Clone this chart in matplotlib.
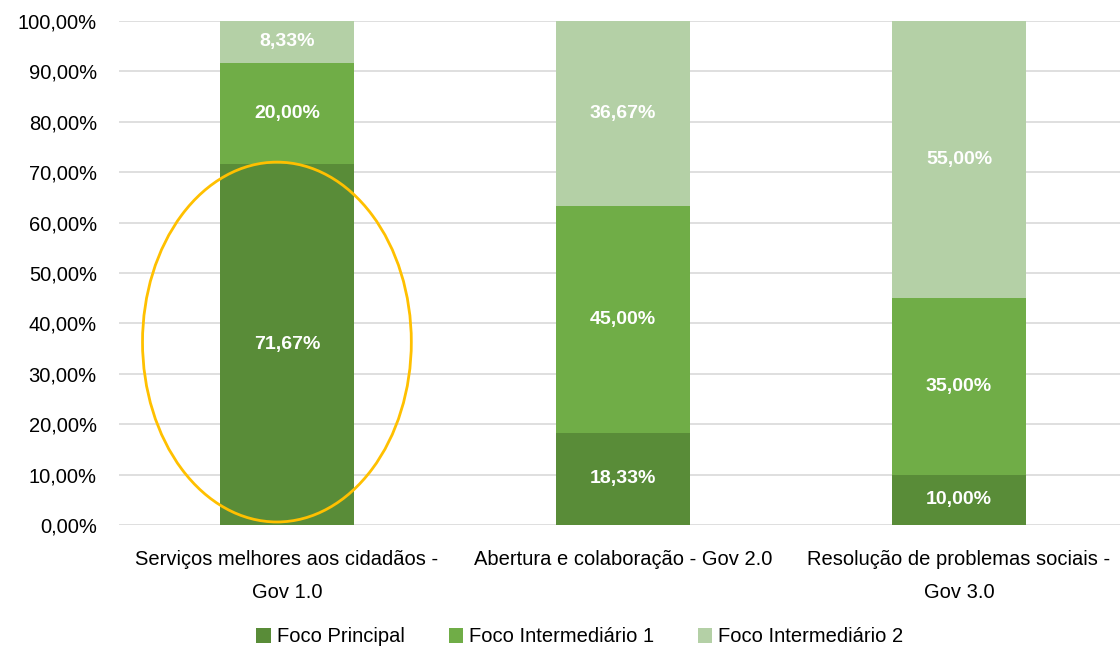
import matplotlib
matplotlib.use("Agg")
import matplotlib.pyplot as plt
import numpy as np
from matplotlib.patches import Ellipse

plt.rcParams['font.family'] = ['Liberation Sans', 'DejaVu Sans']

categories = ['Serviços melhores aos cidadãos -\nGov 1.0',
              'Abertura e colaboração - Gov 2.0',
              'Resolução de problemas sociais -\nGov 3.0']
series_names = ['Foco Principal', 'Foco Intermediário 1', 'Foco Intermediário 2']
foco_principal = [71.67, 18.33, 10.00]
foco_inter1 = [20.00, 45.00, 35.00]
foco_inter2 = [8.33, 36.67, 55.00]
colors = ['#598C38', '#70AD47', '#B4D0A6']

fig = plt.figure(figsize=(11.2, 6.5), dpi=100)
ax = fig.add_axes([119 / 1120, 125 / 650, 1008 / 1120, 504 / 650])

x = np.arange(len(categories))
bottom = np.zeros(len(categories))
for name, vals, c in zip(series_names, [foco_principal, foco_inter1, foco_inter2], colors):
    vals = np.array(vals)
    ax.bar(x, vals, width=0.4, bottom=bottom, color=c, label=name, zorder=2)
    for xi, b, v in zip(x, bottom, vals):
        ax.text(xi, b + v / 2, f'{v:.2f}%'.replace('.', ','), ha='center', va='center',
                color='white', fontsize=14, fontweight='bold', zorder=3)
    bottom += vals

ax.set_xlim(-0.5, 2.5)
ax.set_ylim(0, 100)
ax.set_yticks(np.arange(0, 101, 10))
ax.set_yticklabels([f'{v:.2f}%'.replace('.', ',') for v in np.arange(0, 101, 10)], fontsize=14.5)
ax.set_xticks(x)
ax.set_xticklabels(categories, fontsize=14.5, linespacing=1.9)
ax.tick_params(axis='both', length=0)
ax.tick_params(axis='x', pad=18)
ax.tick_params(axis='y', pad=16)
ax.grid(axis='y', color='#D9D9D9', linewidth=1.2, zorder=0)
for s in ax.spines.values():
    s.set_visible(False)

# highlight ellipse around first bar
ell = Ellipse((-0.03, 36.3), 0.80, 71.4, fill=False, edgecolor='#FFC000',
              linewidth=2, clip_on=False, zorder=4)
ax.add_patch(ell)

fig.legend(loc='center', bbox_to_anchor=(580 / 1120, 1 - 637 / 650), ncol=3, frameon=False,
           fontsize=14.5, handlelength=0.7, handleheight=0.7, handletextpad=0.3, columnspacing=2.2)

fig.savefig('out.png', dpi=100)
